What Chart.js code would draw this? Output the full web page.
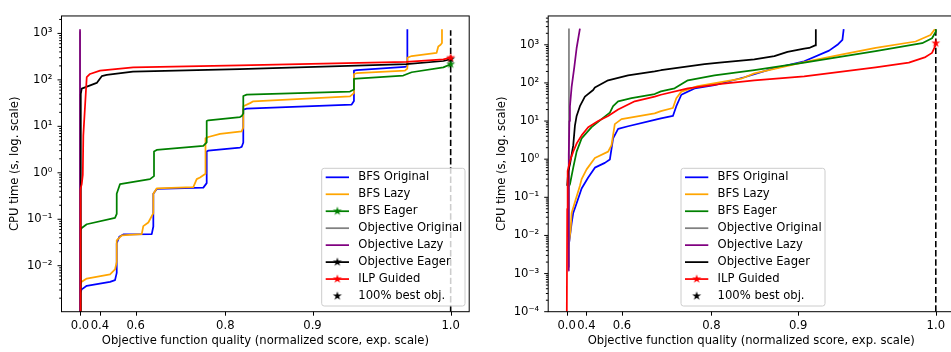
<!DOCTYPE html>
<html>
<head>
<meta charset="utf-8">
<script src="https://cdn.jsdelivr.net/npm/chart.js@4/dist/chart.umd.min.js"></script>
<style>
  html, body { margin: 0; padding: 0; background: #fff; overflow: hidden; width: 951px; height: 352px; }
  canvas { position: absolute; top: 0; }
  #left { left: 0; }
  #right { left: 480px; }
</style>
</head>
<body>
<canvas id="left" width="480" height="352"></canvas>
<canvas id="right" width="480" height="352"></canvas>
<script>
// ---- data ----
const seriesNames = ['BFS Original', 'BFS Lazy', 'BFS Eager', 'Objective Original', 'Objective Lazy', 'Objective Eager', 'ILP Guided'];
const seriesColors = ['#0000ff', '#ffa500', '#008000', '#808080', '#800080', '#000000', '#ff0000'];
const bestLabel = '100% best obj.';
const xTicks = [0.0, 0.4, 0.6, 0.8, 0.9, 1.0];
const leftYTicks = [1e-2, 1e-1, 1, 10, 100, 1000];
const rightYTicks = [1e-4, 1e-3, 1e-2, 1e-1, 1, 10, 100, 1000];

// left panel: [quality, cpu seconds]
const leftBfsOriginal = [[0.0, 0.0026], [0.0813, 0.0031], [0.2227, 0.0037], [0.4774, 0.0045], [0.5074, 0.0049], [0.5167, 0.007], [0.5167, 0.03], [0.53, 0.042], [0.5495, 0.047], [0.6522, 0.048], [0.6567, 0.07], [0.6567, 0.355], [0.666, 0.45], [0.7653, 0.48], [0.771, 0.6], [0.771, 2.87], [0.7737, 3.0], [0.8204, 3.5], [0.8226, 3.6], [0.8247, 4.5], [0.8247, 23], [0.8291, 24], [0.9333, 29.5], [0.9351, 35], [0.9351, 158], [0.9372, 163], [0.9717, 190], [0.9733, 200], [0.9733, 1230]];
const leftBfsLazy = [[0.0, 0.004], [0.0813, 0.0045], [0.2227, 0.0053], [0.4774, 0.0065], [0.5074, 0.0083], [0.5167, 0.012], [0.5167, 0.035], [0.5421, 0.045], [0.6213, 0.048], [0.6264, 0.071], [0.6421, 0.085], [0.6567, 0.135], [0.6567, 0.355], [0.666, 0.46], [0.7475, 0.49], [0.7537, 0.73], [0.7596, 0.79], [0.769, 0.95], [0.769, 5.5], [0.7737, 5.9], [0.7922, 6.9], [0.8226, 7.8], [0.8247, 9.5], [0.8247, 27], [0.8333, 31.6], [0.8374, 34.6], [0.932, 44], [0.9351, 52], [0.9351, 134], [0.9372, 139], [0.9717, 158], [0.9733, 175], [0.9733, 300], [0.9761, 326], [0.9917, 382], [0.9927, 525], [0.9941, 570], [0.9949, 620], [0.9949, 1230]];
const leftBfsEager = [[0.0, 0.0005], [0.03, 0.058], [0.0813, 0.065], [0.2227, 0.078], [0.5074, 0.107], [0.5167, 0.13], [0.5167, 0.355], [0.5252, 0.45], [0.5337, 0.57], [0.6471, 0.73], [0.6586, 0.85], [0.6586, 2.87], [0.666, 3.1], [0.7653, 3.8], [0.771, 4.5], [0.771, 13], [0.7737, 13.5], [0.8204, 15.8], [0.8226, 16.6], [0.8247, 19], [0.8247, 45], [0.8291, 48], [0.932, 56], [0.9351, 62], [0.9351, 105], [0.9372, 106], [0.9706, 124], [0.9761, 146], [0.9957, 186], [1.0, 217]];
const leftObjOriginal = [[0.0, 0.0005], [0.0, 1100]];
const leftObjLazy = [[0.0, 0.0005], [0.0, 1230]];
const leftObjEager = [[0.0, 0.0005], [0.04, 50], [0.081, 65], [0.3686, 86], [0.4161, 120], [0.4551, 128], [0.59, 150], [0.82, 171], [0.9727, 218], [0.9957, 255], [1.0, 280]];
const leftIlp = [[0.0, 0.0005], [0.03, 0.45], [0.081, 0.57], [0.12, 0.9], [0.137, 6.4], [0.184, 27], [0.223, 115], [0.282, 134], [0.401, 158], [0.591, 186], [0.82, 205], [0.9727, 244], [0.9957, 277], [1.0, 300]];

// right panel
const rightBfsOriginal = [[0.0774, 0.0058], [0.1146, 0.0068], [0.184, 0.021], [0.2208, 0.039], [0.2826, 0.07], [0.35, 0.17], [0.4154, 0.33], [0.4664, 0.6], [0.5254, 0.8], [0.5499, 0.98], [0.5645, 3.5], [0.5851, 6.25], [0.6212, 7.3], [0.6955, 10.7], [0.7098, 11.7], [0.7349, 13.6], [0.7415, 24.5], [0.7509, 49], [0.7739, 72], [0.8045, 87], [0.8436, 141], [0.8734, 230], [0.9055, 370], [0.9268, 703], [0.9335, 1000], [0.9374, 1340], [0.9384, 2560]];
const rightBfsLazy = [[0.0774, 0.0046], [0.158, 0.0145], [0.184, 0.039], [0.2539, 0.075], [0.3293, 0.2], [0.35, 0.3], [0.4013, 0.54], [0.4664, 1.07], [0.5418, 1.58], [0.5575, 2.35], [0.5717, 8.3], [0.598, 11.2], [0.6955, 15.9], [0.7098, 18.2], [0.7349, 22], [0.7415, 39.8], [0.7509, 59], [0.7792, 82], [0.8397, 129], [0.8552, 178], [0.9055, 350], [0.9374, 560], [0.9618, 825], [0.9879, 1220], [0.9969, 1800], [0.9994, 2560]];
const rightBfsEager = [[0.1, 0.19], [0.1373, 0.22], [0.2208, 0.6], [0.2826, 1.58], [0.35, 3.5], [0.4428, 6.9], [0.5076, 11.2], [0.5499, 16.6], [0.5645, 24.5], [0.5851, 33], [0.6322, 40], [0.6955, 51], [0.7098, 60], [0.7382, 72], [0.7626, 117], [0.8045, 157], [0.8552, 218], [0.9055, 342], [0.9618, 680], [0.9919, 1100], [0.9978, 1480], [0.99998, 2190], [1.0, 2560]];
const rightObjOriginal = [[0.1, 0.0015], [0.104, 0.01], [0.104, 2660]];
const rightObjLazy = [[0.0774, 0.0012], [0.09, 0.3], [0.104, 1.3], [0.12, 10], [0.1373, 24.5], [0.184, 79], [0.2415, 255], [0.2826, 824], [0.3293, 2660]];
const rightObjEager = [[0.03, 0.2], [0.0774, 0.49], [0.1373, 0.73], [0.2208, 2.3], [0.2539, 7.6], [0.2826, 13.6], [0.3293, 24.5], [0.3851, 43.6], [0.4545, 65], [0.4664, 76], [0.5418, 117], [0.6212, 157], [0.6955, 200], [0.7098, 215], [0.7898, 310], [0.8115, 342], [0.8552, 415], [0.8768, 506], [0.8899, 650], [0.9055, 790], [0.9099, 825], [0.9151, 965], [0.9157, 2560]];
const rightIlp = [[0.0, 0.00001], [0.03, 0.05], [0.051, 0.49], [0.1373, 0.88], [0.2208, 1.58], [0.2826, 2.57], [0.35, 4.2], [0.4154, 6.9], [0.4877, 10], [0.5418, 13.6], [0.5851, 20], [0.6423, 33], [0.6955, 43.6], [0.7098, 49], [0.7626, 72], [0.8139, 95], [0.8552, 117], [0.9055, 148], [0.9618, 255], [0.9837, 342], [0.9939, 477], [0.9978, 614], [0.99998, 1000], [1.0, 1100]];

// ---- look ----
const FONT = '"DejaVu Sans", sans-serif';
const FS = 11.6;
Chart.defaults.color = '#000';
Chart.defaults.font.family = FONT;
Chart.defaults.font.size = FS;

// x axis is linear in 100^x ("exp. scale"), with matplotlib's 5% margins
const T_MIN = -3.95, T_MAX = 104.95;
class ExpScale extends Chart.LinearScale {
  getPixelForValue(v) {
    return this.getPixelForDecimal((Math.pow(100, v) - T_MIN) / (T_MAX - T_MIN));
  }
  getValueForPixel(p) {
    const t = T_MIN + this.getDecimalForPixel(p) * (T_MAX - T_MIN);
    return t > 0 ? Math.log10(t) / 2 : 0;
  }
}
ExpScale.id = 'exp100';
ExpScale.defaults = Chart.LinearScale.defaults;
Chart.register(ExpScale);

function starImage(color) {
  const c = document.createElement('canvas');
  c.width = 12; c.height = 12;
  const g = c.getContext('2d');
  g.beginPath();
  for (let i = 0; i < 10; i++) {
    const r = i % 2 ? 1.8 : 4.7;
    const a = -Math.PI / 2 + i * Math.PI / 5;
    const px = 6 + r * Math.cos(a), py = 6 + r * Math.sin(a);
    if (i) g.lineTo(px, py); else g.moveTo(px, py);
  }
  g.closePath();
  g.fillStyle = color;
  g.fill();
  return c;
}
const stars = seriesColors.map(starImage);

const SUP = { '-': '\u207B', '0': '\u2070', '1': '\u00B9', '2': '\u00B2', '3': '\u00B3', '4': '\u2074' };
function powLabel(v) {
  const e = Math.round(Math.log10(v));
  return '10' + String(e).split('').map(c => SUP[c]).join('');
}

// majors plus the 2..9 minors inside [min, max]
function logTicks(majors, min, max) {
  const out = [];
  const lo = Math.floor(Math.log10(min)), hi = Math.ceil(Math.log10(max));
  for (let e = lo; e <= hi; e++) {
    for (let k = 1; k <= 9; k++) {
      const v = k * Math.pow(10, e);
      if (v >= min && v <= max) out.push({ value: v, major: k === 1 && majors.some(m => Math.abs(m - v) / v < 1e-9) });
    }
  }
  return out;
}

function line(ctx, x0, y0, x1, y1) {
  ctx.beginPath(); ctx.moveTo(x0, y0); ctx.lineTo(x1, y1); ctx.stroke();
}

function mplPlugin(p) {
  return {
    id: 'mpl',
    afterDraw(chart) {
      const ctx = chart.ctx, a = chart.chartArea;
      const xs = chart.scales.x, ys = chart.scales.y;
      ctx.save();
      ctx.strokeStyle = '#000';
      ctx.lineWidth = 1;
      xs.ticks.forEach(t => {
        const px = Math.round(xs.getPixelForValue(t.value)) + 0.5;
        line(ctx, px, a.bottom, px, a.bottom + 4);
      });
      ys.ticks.forEach(t => {
        const py = ys.getPixelForValue(t.value);
        line(ctx, a.left - (t.major ? 4 : 2.3), py, a.left, py);
      });
      ctx.strokeRect(a.left, a.top, a.right - a.left, a.bottom - a.top);

      // axis titles
      ctx.fillStyle = '#000';
      ctx.font = FS + 'px ' + FONT;
      ctx.textAlign = 'center';
      ctx.textBaseline = 'middle';
      ctx.fillText('Objective function quality (normalized score, exp. scale)', (a.left + a.right) / 2, 341);
      ctx.save();
      ctx.translate(a.left - 46.5, (a.top + a.bottom) / 2);
      ctx.rotate(-Math.PI / 2);
      ctx.fillText('CPU time (s, log. scale)', 0, 0);
      ctx.restore();

      // legend
      const L = p.legend;
      ctx.beginPath();
      ctx.roundRect(L.x, L.y, L.w, L.h, 2.5);
      ctx.fillStyle = 'rgba(255,255,255,0.8)';
      ctx.fill();
      ctx.strokeStyle = '#cccccc';
      ctx.stroke();
      const rows = seriesNames.concat([bestLabel]);
      ctx.textAlign = 'left';
      rows.forEach((name, i) => {
        const cy = L.y + 9 + i * 16.96;
        const hx0 = L.x + 4, hx1 = L.x + 27.3, hc = (hx0 + hx1) / 2;
        if (i < seriesNames.length) {
          ctx.strokeStyle = seriesColors[i];
          ctx.lineWidth = 1.75;
          line(ctx, hx0, cy, hx1, cy);
          if (p.stars.includes(i)) ctx.drawImage(stars[i], hc - 6, cy - 6);
        } else {
          ctx.drawImage(stars[5], hc - 6, cy - 6);
        }
        ctx.fillStyle = '#000';
        ctx.fillText(name, L.x + 36.6, cy);
      });
      ctx.restore();
    }
  };
}

function buildChart(id, p) {
  const datasets = p.series.map((pts, i) => ({
    label: seriesNames[i],
    data: pts.map(([x, y]) => ({ x, y })),
    borderColor: seriesColors[i],
    backgroundColor: seriesColors[i],
    borderWidth: 1.75,
    borderJoinStyle: 'round',
    tension: 0,
    pointStyle: stars[i],
    pointRadius: c => (p.stars.includes(i) && c.dataIndex === pts.length - 1) ? 4 : 0,
    order: 10 - i
  }));
  datasets.push({
    label: bestLabel,
    data: [{ x: 1, y: p.yMin }, { x: 1, y: p.dashTop }],
    borderColor: '#000',
    borderWidth: 1.6,
    borderDash: [6.4, 2.8],
    pointRadius: 0,
    order: 20
  });

  return new Chart(document.getElementById(id), {
    type: 'line',
    data: { datasets },
    options: {
      responsive: false,
      animation: false,
      devicePixelRatio: 1,
      events: [],
      layout: { padding: { left: 0, right: p.padRight, top: 7, bottom: 0 } },
      plugins: { legend: { display: false }, tooltip: { enabled: false } },
      scales: {
        x: {
          type: 'exp100',
          min: 0, max: 1,
          bounds: 'data',
          afterBuildTicks: ax => { ax.ticks = xTicks.map(v => ({ value: v })); },
          afterFit: ax => { ax.height = 40.3; },
          grid: { display: false, drawTicks: false },
          border: { display: false },
          ticks: { autoSkip: false, maxRotation: 0, minRotation: 0, padding: 7.5, callback: v => v.toFixed(1) }
        },
        y: {
          type: 'logarithmic',
          min: p.yMin, max: p.yMax,
          afterBuildTicks: ax => { ax.ticks = logTicks(p.yTicks, p.yMin, p.yMax); },
          afterFit: ax => { ax.width = p.axisLeft; },
          grid: { display: false, drawTicks: false },
          border: { display: false },
          ticks: { autoSkip: false, padding: 9, callback: (v, i, ts) => ts[i].major ? powLabel(v) : '' }
        }
      }
    },
    plugins: [mplPlugin(p)]
  });
}

buildChart('left', {
  series: [leftBfsOriginal, leftBfsLazy, leftBfsEager, leftObjOriginal, leftObjLazy, leftObjEager, leftIlp],
  stars: [2, 5, 6],
  yMin: Math.pow(10, -2.99), yMax: Math.pow(10, 3.376), yTicks: leftYTicks,
  dashTop: 1170,
  axisLeft: 61.5, padRight: 10.8,
  legend: { x: 321.7, y: 168.3, w: 143.3, h: 137.7 }
});

buildChart('right', {
  series: [rightBfsOriginal, rightBfsLazy, rightBfsEager, rightObjOriginal, rightObjLazy, rightObjEager, rightIlp],
  stars: [6],
  yMin: 1e-4, yMax: Math.pow(10, 3.756), yTicks: rightYTicks,
  dashTop: 2560,
  axisLeft: 68.2, padRight: 4.5,
  legend: { x: 201, y: 168.3, w: 144, h: 137.7 }
});
</script>
</body>
</html>
